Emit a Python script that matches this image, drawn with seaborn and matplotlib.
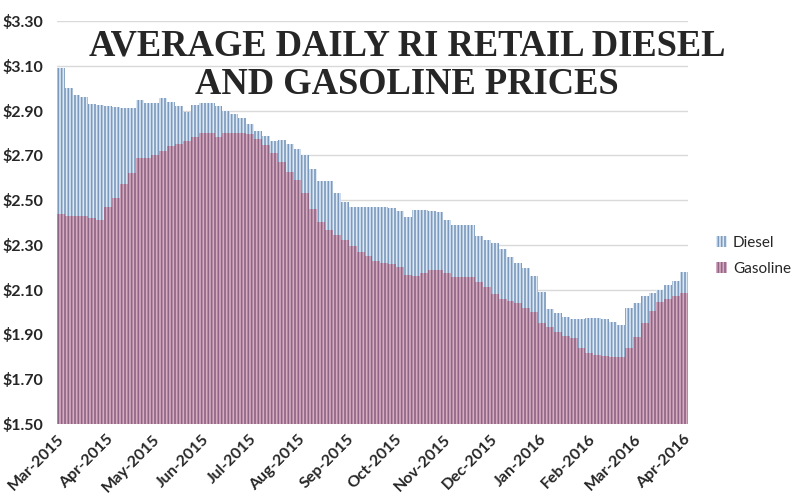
import matplotlib
matplotlib.use('Agg')

import matplotlib.pyplot as plt
import seaborn as sns
import pandas as pd
import numpy as np

# five-day buckets starting 1 Mar 2015
start = pd.Timestamp('2015-03-01')
dates = pd.date_range(start, periods=80, freq='5D')

diesel = [3.09, 3.00, 2.97, 2.96, 2.93, 2.925, 2.92, 2.915, 2.91, 2.91,
          2.945, 2.935, 2.935, 2.955, 2.94, 2.92, 2.895, 2.925, 2.935, 2.935,
          2.92, 2.90, 2.885, 2.865, 2.84, 2.81, 2.785, 2.765, 2.77, 2.75,
          2.73, 2.70, 2.64, 2.585, 2.585, 2.53, 2.49, 2.47, 2.47, 2.47,
          2.47, 2.47, 2.465, 2.45, 2.425, 2.455, 2.455, 2.45, 2.445, 2.41,
          2.39, 2.39, 2.39, 2.34, 2.32, 2.31, 2.28, 2.245, 2.22, 2.195,
          2.16, 2.09, 2.015, 1.995, 1.98, 1.97, 1.97, 1.975, 1.975, 1.97,
          1.955, 1.94, 2.02, 2.04, 2.07, 2.085, 2.10, 2.12, 2.14, 2.18]

gasoline = [2.44, 2.43, 2.43, 2.43, 2.42, 2.41, 2.47, 2.51, 2.57, 2.62,
            2.69, 2.69, 2.70, 2.72, 2.74, 2.75, 2.765, 2.78, 2.80, 2.80,
            2.78, 2.80, 2.80, 2.80, 2.795, 2.775, 2.745, 2.71, 2.67, 2.625,
            2.59, 2.53, 2.46, 2.40, 2.365, 2.345, 2.32, 2.295, 2.27, 2.25,
            2.23, 2.22, 2.215, 2.20, 2.165, 2.16, 2.175, 2.19, 2.19, 2.175,
            2.155, 2.155, 2.155, 2.135, 2.11, 2.08, 2.06, 2.05, 2.04, 2.02,
            2.00, 1.95, 1.935, 1.91, 1.895, 1.885, 1.84, 1.815, 1.81, 1.805,
            1.80, 1.80, 1.84, 1.89, 1.95, 2.005, 2.045, 2.06, 2.07, 2.085]

month_ticks = pd.date_range('2015-03-01', '2016-04-01', freq='MS')
month_labels = [d.strftime('%b-%Y') for d in month_ticks]
y_ticks = [1.50, 1.70, 1.90, 2.10, 2.30, 2.50, 2.70, 2.90, 3.10, 3.30]

df = pd.DataFrame({
    'day': (dates - start).days + 2.5,
    'Diesel': diesel,
    'Gasoline': gasoline,
})

sns.set_theme(style="whitegrid")
plt.rcParams['font.family'] = ['Lato', 'DejaVu Sans']
plt.rcParams['hatch.linewidth'] = 1.2

fig = plt.figure(figsize=(8, 5), dpi=100)
ax = fig.add_axes([0.071, 0.152, 0.789, 0.806])

# 柴油在后，汽油叠在前面
sns.barplot(data=df, x='day', y='Diesel', native_scale=True, width=1,
            color='#dde9f5', saturation=1, errorbar=None, ax=ax,
            hatch='|||||', edgecolor='#7c9abd', linewidth=0, label='Diesel')
sns.barplot(data=df, x='day', y='Gasoline', native_scale=True, width=1,
            color='#d8abc0', saturation=1, errorbar=None, ax=ax,
            hatch='|||||', edgecolor='#8d6686', linewidth=0, label='Gasoline')

ax.set_xlim(0, 400)
ax.set_ylim(1.50, 3.30)
ax.set_yticks(y_ticks)
ax.set_yticklabels([f"${v:.2f}" for v in y_ticks], fontsize=11.5, fontweight='bold')
ax.set_xticks((month_ticks - start).days)
ax.set_xticklabels(month_labels, rotation=45, ha='right', rotation_mode='anchor',
                   fontsize=11.5, fontweight='bold')
ax.tick_params(axis='y', length=0, pad=10)
ax.tick_params(axis='x', length=0, pad=6)
ax.set_xlabel('')
ax.set_ylabel('')
ax.grid(axis='x', visible=False)
ax.grid(axis='y', color='#d9d9d9', linewidth=1)
ax.set_axisbelow(True)
for s in ax.spines.values():
    s.set_visible(False)

ax.legend(loc='center left', bbox_to_anchor=(0.895, 0.488), bbox_transform=fig.transFigure,
          frameon=False, fontsize=11, handlelength=0.7, handleheight=0.7,
          handletextpad=0.4, labelspacing=0.8, borderpad=0, borderaxespad=0)

fig.text(0.509, 0.888, "AVERAGE DAILY RI RETAIL DIESEL", ha='center', va='baseline',
         fontsize=26.3, fontweight='bold', family='Liberation Serif')
fig.text(0.509, 0.813, "AND GASOLINE PRICES", ha='center', va='baseline',
         fontsize=26.3, fontweight='bold', family='Liberation Serif')

fig.savefig('out.png', dpi=100)
